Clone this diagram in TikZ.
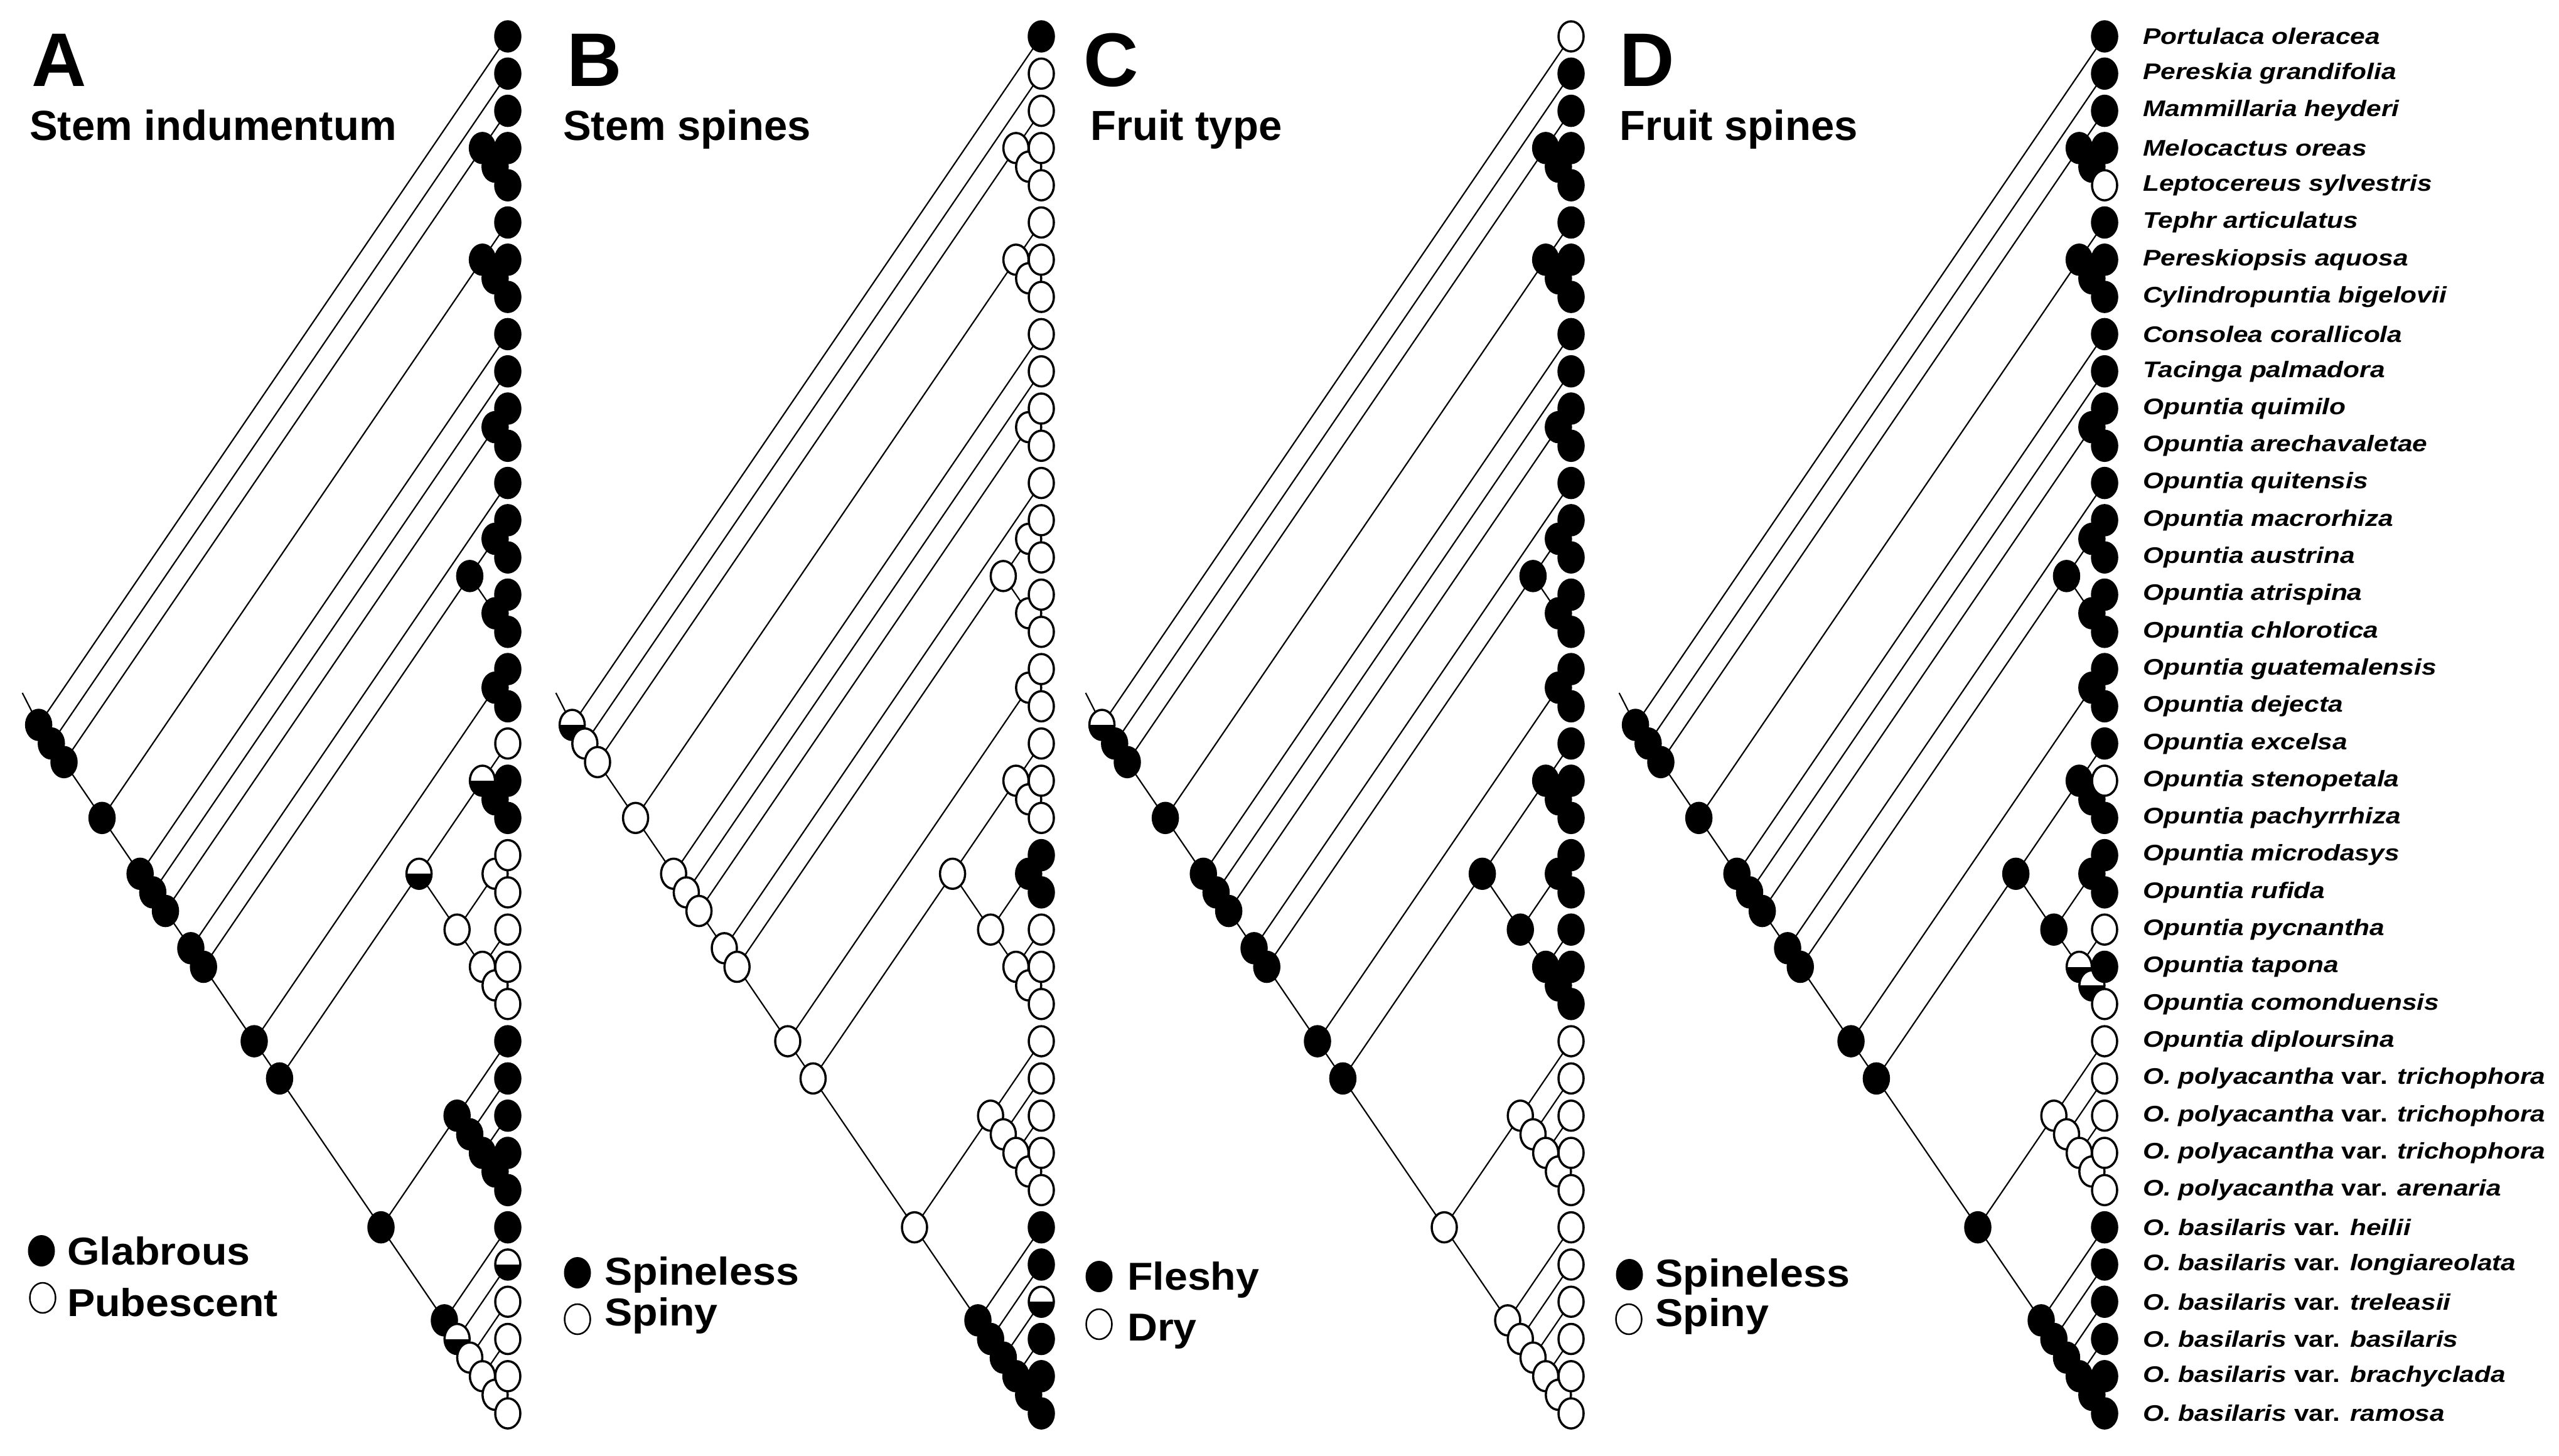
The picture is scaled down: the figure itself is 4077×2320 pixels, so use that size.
\documentclass[tikz,border=0pt]{standalone}
\usepackage{fontspec}
\setmainfont{Liberation Sans}
\usetikzlibrary{shapes.geometric,backgrounds,calc}
\tikzset{
  nd/.style={ellipse, draw=black, line width=3.5pt, minimum width=40pt, minimum height=48pt, inner sep=0pt},
  bk/.style={fill=black},
  wt/.style={fill=white},
  hf/.style={fill=white, path picture={\fill[black] (path picture bounding box.west) rectangle (path picture bounding box.south east);}},
  def-A/.style=bk, def-B/.style=wt, def-C/.style=bk, def-D/.style=bk,
  edge/.style={line width=2.2pt},
  ttl/.style={font=\bfseries\fontsize{121}{130}\selectfont, anchor=base west, inner sep=0pt},
  sub/.style={font=\bfseries\fontsize{67}{75}\selectfont, anchor=base west, inner sep=0pt},
  leg/.style={font=\bfseries\fontsize{62}{70}\selectfont, anchor=base west, inner sep=0pt, xscale=1.07},
  sp/.style={font=\bfseries\itshape\fontsize{36}{40}\selectfont, anchor=west, inner sep=0pt, xscale=1.18},
  lgb/.style={ellipse, fill=black, minimum width=43pt, minimum height=50pt, inner sep=0pt},
  lgw/.style={ellipse, draw=black, line width=2.5pt, fill=white, minimum width=41pt, minimum height=48pt, inner sep=0pt},
  % Panel A exceptions
  s-A-19-19/.style=wt, s-A-22-22/.style=wt, s-A-23-23/.style=wt, s-A-24-24/.style=wt,
  s-A-25-25/.style=wt, s-A-26-26/.style=wt, s-A-34-34/.style=wt, s-A-35-35/.style=wt,
  s-A-36-36/.style=wt, s-A-37-37/.style=wt, s-A-22-23/.style=wt, s-A-22-26/.style=wt,
  s-A-24-26/.style=wt, s-A-25-26/.style=wt, s-A-34-37/.style=wt, s-A-35-37/.style=wt,
  s-A-36-37/.style=wt, s-A-19-21/.style=hf, s-A-19-26/.style=hf, s-A-33-33/.style=hf,
  s-A-33-37/.style=hf,
  % Panel B exceptions (default white)
  s-B-0-0/.style=bk, s-B-22-22/.style=bk, s-B-23-23/.style=bk, s-B-22-23/.style=bk,
  s-B-32-32/.style=bk, s-B-33-33/.style=bk, s-B-35-35/.style=bk, s-B-36-36/.style=bk,
  s-B-37-37/.style=bk, s-B-32-37/.style=bk, s-B-33-37/.style=bk, s-B-34-37/.style=bk,
  s-B-35-37/.style=bk, s-B-36-37/.style=bk, s-B-0-37/.style=hf, s-B-34-34/.style=hf,
  % Panel C exceptions
  s-C-0-0/.style=wt, s-C-0-37/.style=hf,
  s-C-27-27/.style=wt, s-C-28-28/.style=wt, s-C-29-29/.style=wt, s-C-30-30/.style=wt,
  s-C-31-31/.style=wt, s-C-32-32/.style=wt, s-C-33-33/.style=wt, s-C-34-34/.style=wt,
  s-C-35-35/.style=wt, s-C-36-36/.style=wt, s-C-37-37/.style=wt, s-C-27-37/.style=wt,
  s-C-27-31/.style=wt, s-C-28-31/.style=wt, s-C-29-31/.style=wt, s-C-30-31/.style=wt,
  s-C-32-37/.style=wt, s-C-33-37/.style=wt, s-C-34-37/.style=wt, s-C-35-37/.style=wt,
  s-C-36-37/.style=wt,
  % Panel D exceptions
  s-D-4-4/.style=wt, s-D-20-20/.style=wt, s-D-24-24/.style=wt, s-D-26-26/.style=wt,
  s-D-27-27/.style=wt, s-D-28-28/.style=wt, s-D-29-29/.style=wt, s-D-30-30/.style=wt,
  s-D-31-31/.style=wt, s-D-27-31/.style=wt, s-D-28-31/.style=wt, s-D-29-31/.style=wt,
  s-D-30-31/.style=wt, s-D-24-26/.style=hf, s-D-25-26/.style=hf
}
\newcommand\mkpanel[2]{%
  \foreach \a/\b in {0/37,1/37,2/37,2/4,3/4,5/37,5/7,6/7,8/37,9/37,10/37,10/11,12/37,13/37,13/16,13/14,15/16,17/37,17/18,19/37,19/26,19/21,20/21,22/26,22/23,24/26,25/26,27/37,27/31,28/31,29/31,30/31,32/37,33/37,34/37,35/37,36/37,
    0/0,1/1,2/2,3/3,4/4,5/5,6/6,7/7,8/8,9/9,10/10,11/11,12/12,13/13,14/14,15/15,16/16,17/17,18/18,19/19,20/20,21/21,22/22,23/23,24/24,25/25,26/26,27/27,28/28,29/29,30/30,31/31,32/32,33/33,34/34,35/35,36/36,37/37}{%
    \pgfmathsetmacro\nx{#2-20.2*(\b-\a)}%
    \pgfmathsetmacro\ny{58+29.65*(\a+\b)}%
    \edef\tmp{\noexpand\node[nd,def-#1,s-#1-\a-\b/.try] (#1-\a-\b) at (\nx,\ny) {};}%
    \tmp
  }%
  \coordinate (#1-stem) at ($(#1-0-37)+(-26,-51)$);
  \begin{scope}[on background layer]
    \draw[edge] (#1-stem) -- (#1-0-37.center);
    \foreach \p/\c in {0-37/0-0,0-37/1-37,1-37/1-1,1-37/2-37,2-37/2-4,2-37/5-37,2-4/2-2,2-4/3-4,3-4/3-3,3-4/4-4,5-37/5-7,5-37/8-37,5-7/5-5,5-7/6-7,6-7/6-6,6-7/7-7,8-37/8-8,8-37/9-37,9-37/9-9,9-37/10-37,10-37/10-11,10-37/12-37,10-11/10-10,10-11/11-11,12-37/12-12,12-37/13-37,13-37/13-16,13-37/17-37,13-16/13-14,13-16/15-16,13-14/13-13,13-14/14-14,15-16/15-15,15-16/16-16,17-37/17-18,17-37/19-37,17-18/17-17,17-18/18-18,19-37/19-26,19-37/27-37,19-26/19-21,19-26/22-26,19-21/19-19,19-21/20-21,20-21/20-20,20-21/21-21,22-26/22-23,22-26/24-26,22-23/22-22,22-23/23-23,24-26/24-24,24-26/25-26,25-26/25-25,25-26/26-26,27-37/27-31,27-37/32-37,27-31/27-27,27-31/28-31,28-31/28-28,28-31/29-31,29-31/29-29,29-31/30-31,30-31/30-30,30-31/31-31,32-37/32-32,32-37/33-37,33-37/33-33,33-37/34-37,34-37/34-34,34-37/35-37,35-37/35-35,35-37/36-37,36-37/36-36,36-37/37-37}{%
      \draw[edge] (#1-\p.center) -- (#1-\c.center);
    }%
  \end{scope}%
}
\begin{document}
\begin{tikzpicture}[x=1pt,y=-1pt]
\useasboundingbox (0,0) rectangle (4077,2320);
\mkpanel{A}{809}
\mkpanel{B}{1659}
\mkpanel{C}{2503}
\mkpanel{D}{3353}
% titles
\node[ttl] (tA) at (50,138) {A};
\node[sub] (sA) at (47,224) {Stem indumentum};
\node[ttl] (tB) at (903,138) {B};
\node[sub] (sB) at (897,224) {Stem spines};
\node[ttl] (tC) at (1726,138) {C};
\node[sub] (sC) at (1737,224) {Fruit type};
\node[ttl] (tD) at (2580,138) {D};
\node[sub] (sD) at (2580,224) {Fruit spines};
% legends
\node[lgb] (lA1) at (66,1993) {};
\node[lgw] (lA2) at (68,2068) {};
\node[leg] (xA1) at (107,2015) {Glabrous};
\node[leg] (xA2) at (107,2097) {Pubescent};
\node[lgb] (lB1) at (920,2028) {};
\node[lgw] (lB2) at (920,2102) {};
\node[leg] (xB1) at (963,2047) {Spineless};
\node[leg] (xB2) at (963,2112) {Spiny};
\node[lgb] (lC1) at (1751,2034) {};
\node[lgw] (lC2) at (1751,2110) {};
\node[leg] (xC1) at (1796,2055) {Fleshy};
\node[leg] (xC2) at (1796,2136) {Dry};
\node[lgb] (lD1) at (2596,2031) {};
\node[lgw] (lD2) at (2595,2102) {};
\node[leg] (xD1) at (2637,2050) {Spineless};
\node[leg] (xD2) at (2637,2113) {Spiny};
% species
\foreach \i/\t in {0/{Portulaca oleracea},1/{Pereskia grandifolia},2/{Mammillaria heyderi},3/{Melocactus oreas},4/{Leptocereus sylvestris},5/{Tephr articulatus},6/{Pereskiopsis aquosa},7/{Cylindropuntia bigelovii},8/{Consolea corallicola},9/{Tacinga palmadora},10/{Opuntia quimilo},11/{Opuntia arechavaletae},12/{Opuntia quitensis},13/{Opuntia macrorhiza},14/{Opuntia austrina},15/{Opuntia atrispina},16/{Opuntia chlorotica},17/{Opuntia guatemalensis},18/{Opuntia dejecta},19/{Opuntia excelsa},20/{Opuntia stenopetala},21/{Opuntia pachyrrhiza},22/{Opuntia microdasys},23/{Opuntia rufida},24/{Opuntia pycnantha},25/{Opuntia tapona},26/{Opuntia comonduensis},27/{Opuntia diploursina},28/{O. polyacantha \textup{var.} trichophora},29/{O. polyacantha \textup{var.} trichophora},30/{O. polyacantha \textup{var.} trichophora},31/{O. polyacantha \textup{var.} arenaria},32/{O. basilaris \textup{var.} heilii},33/{O. basilaris \textup{var.} longiareolata},34/{O. basilaris \textup{var.} treleasii},35/{O. basilaris \textup{var.} basilaris},36/{O. basilaris \textup{var.} brachyclada},37/{O. basilaris \textup{var.} ramosa}}{
  \pgfmathsetmacro\ny{58+59.3*\i}
  \node[sp] (lab\i) at (3414,\ny) {\t};
}
\end{tikzpicture}
\end{document}
